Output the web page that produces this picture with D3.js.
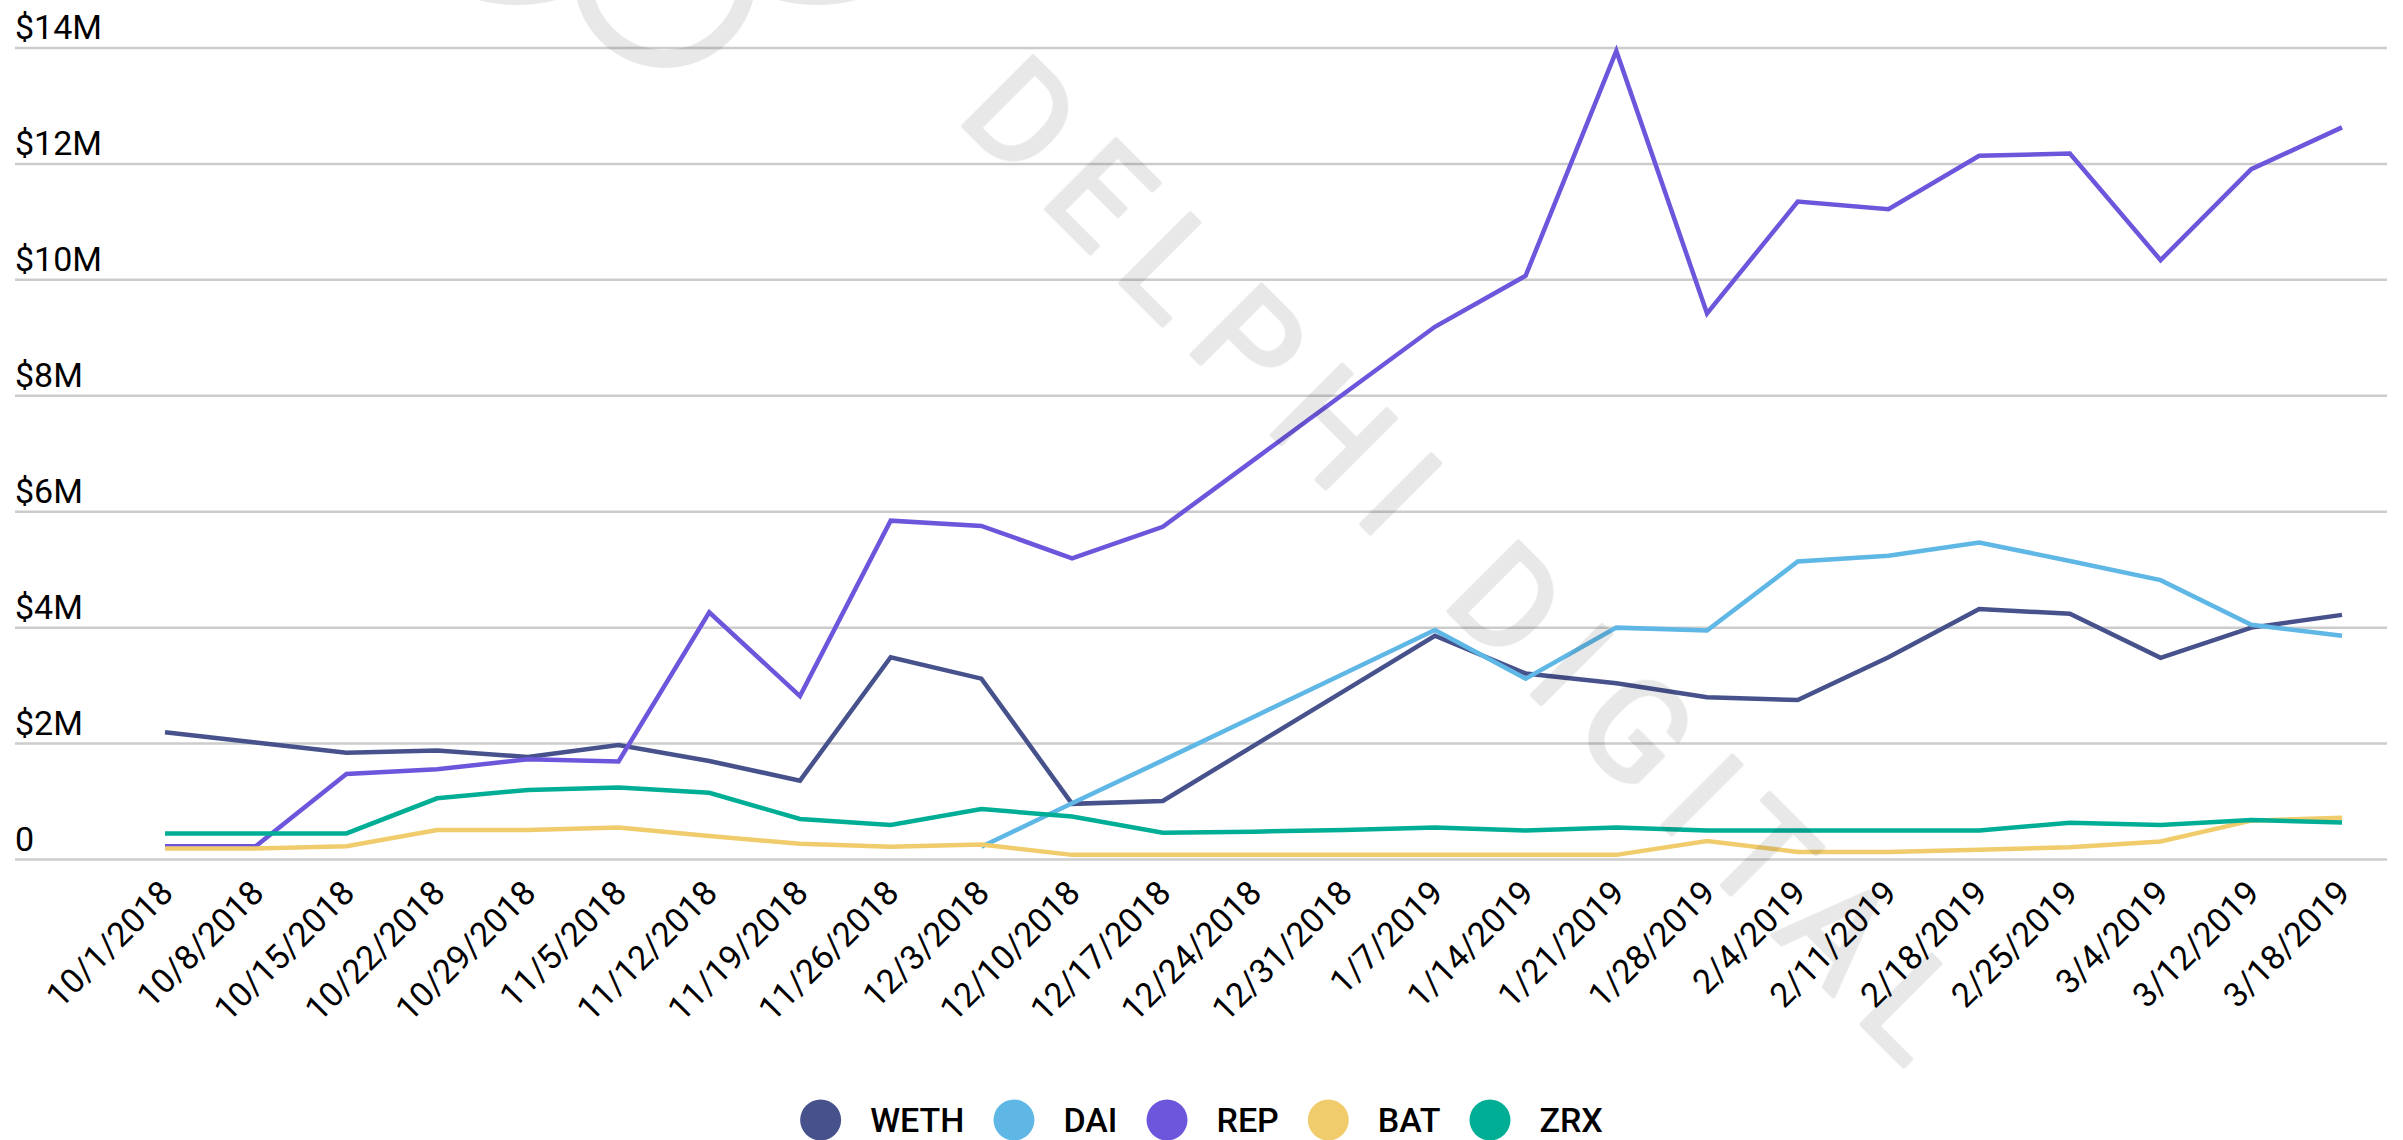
<!DOCTYPE html>
<html>
<head>
<meta charset="utf-8">
<script src="https://cdn.jsdelivr.net/npm/d3@7"></script>
<style>
  html, body { margin: 0; padding: 0; background: #fff; }
  svg { display: block; }
  text { font-family: Roboto, "Noto Sans", sans-serif; }
</style>
</head>
<body>
<svg id="chart" width="2403" height="1140"></svg>
<script>
// ---- data (values in $M) ----
const dates = ["10/1/2018","10/8/2018","10/15/2018","10/22/2018","10/29/2018","11/5/2018","11/12/2018","11/19/2018","11/26/2018","12/3/2018","12/10/2018","12/17/2018","12/24/2018","12/31/2018","1/7/2019","1/14/2019","1/21/2019","1/28/2019","2/4/2019","2/11/2019","2/18/2019","2/25/2019","3/4/2019","3/12/2019","3/18/2019"];
const seriesNames = ["WETH","DAI","REP","BAT","ZRX"];
const seriesColors = ["#47528c","#5fb7e5","#6e56dc","#f0cc6c","#00ae96"];
const weth = [2.195,2.02,1.84,1.88,1.77,1.975,1.70,1.36,3.49,3.12,0.96,1.01,1.96,2.91,3.86,3.21,3.04,2.80,2.75,3.49,4.32,4.24,3.48,4.00,4.22];
const dai  = [null,null,null,null,null,null,null,null,null,0.22,0.97,1.71,2.46,3.21,3.96,3.12,4.00,3.95,5.14,5.24,5.47,5.15,4.82,4.05,3.86];
const rep  = [0.23,0.23,1.475,1.556,1.73,1.69,4.265,2.82,5.845,5.755,5.197,5.74,6.89,8.04,9.19,10.07,13.95,9.42,11.35,11.22,12.14,12.18,10.34,11.91,12.63];
const bat  = [0.19,0.19,0.23,0.51,0.51,0.55,0.405,0.27,0.22,0.26,0.08,0.08,0.08,0.08,0.08,0.08,0.08,0.32,0.13,0.13,0.17,0.21,0.31,0.67,0.72];
const zrx  = [0.45,0.45,0.45,1.056,1.20,1.24,1.15,0.70,0.595,0.87,0.74,0.46,0.48,0.51,0.55,0.50,0.55,0.50,0.50,0.50,0.50,0.635,0.595,0.68,0.64];
const yTicks = [0,2,4,6,8,10,12,14];
const yTickLabels = ["0","$2M","$4M","$6M","$8M","$10M","$12M","$14M"];
const watermarkText = "DELPHI DIGITAL";

const seriesValues = [weth, dai, rep, bat, zrx];

const svg = d3.select("#chart");
const W = 2403, H = 1140;

const x = d3.scalePoint().domain(dates).range([165, 2342]);
const y = d3.scaleLinear().domain([0, 14]).range([859.5, 48]);

// gridlines + y labels
const grid = svg.append("g");
yTicks.forEach((t, i) => {
  grid.append("line")
    .attr("x1", 15).attr("x2", 2387)
    .attr("y1", y(t)).attr("y2", y(t))
    .attr("stroke", "#cccccc").attr("stroke-width", 2.5);
  grid.append("text")
    .attr("x", 15).attr("y", y(t) - 9)
    .attr("font-size", 34).attr("fill", "#000")
    .text(yTickLabels[i]);
});

// x labels
const xl = svg.append("g");
dates.forEach(d => {
  xl.append("text")
    .attr("transform", `translate(${x(d) + 10},895) rotate(-45)`)
    .attr("text-anchor", "end")
    .attr("font-size", 34).attr("fill", "#000")
    .text(d);
});

// lines
const line = d3.line()
  .defined(d => d.v !== null)
  .x(d => x(d.date))
  .y(d => y(d.v));
seriesValues.forEach((vals, si) => {
  const pts = vals.map((v, i) => ({date: dates[i], v}));
  svg.append("path")
    .datum(pts)
    .attr("d", line)
    .attr("fill", "none")
    .attr("stroke", seriesColors[si])
    .attr("stroke-width", 4.5)
    .attr("stroke-linejoin", "miter");
});

// legend
const lg = svg.append("g");
const r = 20.5, gapCT = 29, gapTC = 29;
const items = seriesNames.map((n, i) => {
  const t = lg.append("text").attr("font-size", 34).attr("font-weight", 500).attr("fill", "#000").attr("y", 1132).text(n);
  return {t, w: t.node().getComputedTextLength(), c: seriesColors[i]};
});
let total = 0;
items.forEach((it, i) => { total += 2*r + gapCT + it.w + (i < items.length - 1 ? gapTC : 0); });
let cx = W/2 - total/2;
items.forEach(it => {
  lg.append("circle").attr("cx", cx + r).attr("cy", 1120).attr("r", r).attr("fill", it.c);
  it.t.attr("x", cx + 2*r + gapCT);
  cx += 2*r + gapCT + it.w + gapTC;
});

// watermark
const wm = svg.append("g").attr("opacity", 0.1).attr("pointer-events", "none");
wm.append("circle").attr("cx", 665).attr("cy", -23).attr("r", 82)
  .attr("fill", "none").attr("stroke", "#141923").attr("stroke-width", 18);
wm.append("circle").attr("cx", 517).attr("cy", -150).attr("r", 146)
  .attr("fill", "none").attr("stroke", "#141923").attr("stroke-width", 18);
wm.append("circle").attr("cx", 817).attr("cy", -150).attr("r", 146)
  .attr("fill", "none").attr("stroke", "#141923").attr("stroke-width", 18);
wm.append("text")
  .attr("transform", "translate(955,118) rotate(45)")
  .attr("font-family", "Lato, 'Noto Sans', sans-serif")
  .attr("font-weight", 400)
  .attr("font-size", 139)
  .attr("fill", "#141923")
  .attr("stroke", "#141923")
  .attr("stroke-width", 4)
  .attr("stroke-linejoin", "round")
  .attr("textLength", 1345)
  .attr("lengthAdjust", "spacing")
  .text(watermarkText);
</script>
</body>
</html>
